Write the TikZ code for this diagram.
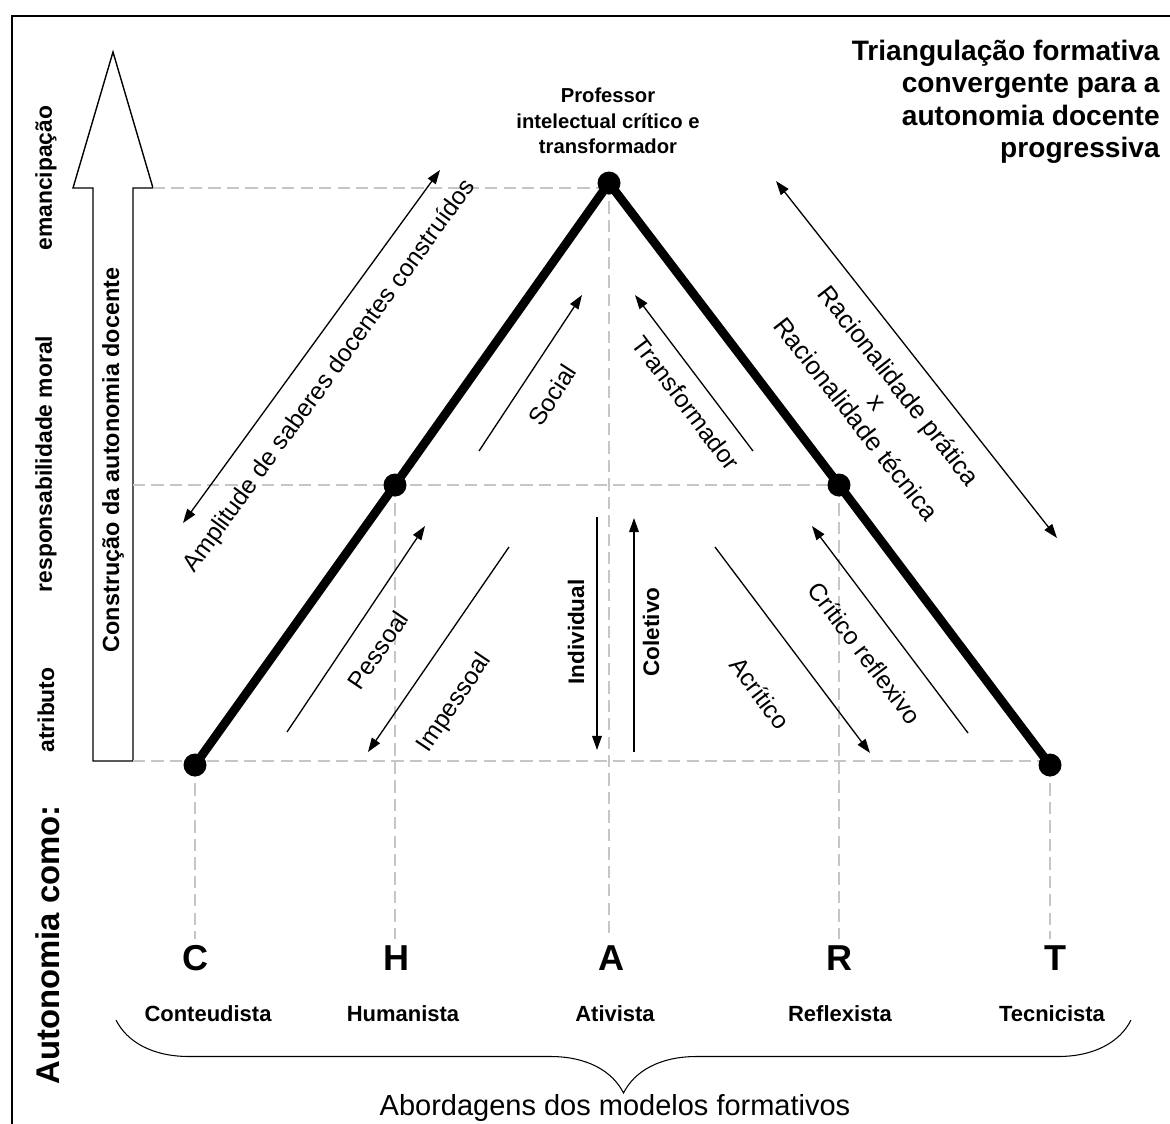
\documentclass[tikz,border=0pt]{standalone}
\usepackage{fontspec}
\setmainfont{Liberation Sans}
\usetikzlibrary{arrows.meta,decorations.pathreplacing}

\begin{document}
\begin{tikzpicture}[
  >={Triangle[length=8pt,width=5.5pt]},
  dot/.style={circle, fill=black, inner sep=0pt, minimum size=0.46cm},
  ridge/.style={line width=5pt},
  guide/.style={gray!45, line width=0.8pt, dash pattern=on 7pt off 3.5pt},
  flow/.style={line width=0.75pt},
  note/.style={font=\fontsize{14}{16}\selectfont},
  rung/.style={rotate=90, font=\bfseries\fontsize{13}{15}\selectfont},
  letter/.style={font=\bfseries\fontsize{20.5}{24}\selectfont},
  model/.style={font=\bfseries\fontsize{12.5}{15}\selectfont}]
\useasboundingbox (0,0) rectangle (23.4,-22.48);
% Frame
\draw[line width=1.7pt] (23.8,-0.32) -- (0.24,-0.32) -- (0.24,-22.8);

% Big arrow
\coordinate (headR) at (3.06,-3.76);
\coordinate (shaftR) at (2.66,-15.22);
\draw[line width=0.8pt] (1.86,-15.22) -- (1.86,-3.76) -- (1.46,-3.76) -- (2.26,-1.04)
  -- (headR) -- (2.66,-3.76) -- (shaftR) -- cycle;
\node[rung, font=\bfseries\fontsize{13.3}{15}\selectfont] (build) at (2.26,-9.20) {Construção da autonomia docente};

% Points
\coordinate (top) at (12.18,-3.66);
\coordinate (hum) at (7.90,-9.70);
\coordinate (con) at (3.90,-15.30);
\coordinate (ref) at (16.78,-9.70);
\coordinate (tec) at (21.00,-15.30);

% Letters and models
\node[letter] (lC) at (3.92,-19.16) {C};
\node[letter] (lH) at (7.94,-19.16) {H};
\node[letter] (lA) at (12.24,-19.16) {A};
\node[letter] (lR) at (16.80,-19.16) {R};
\node[letter] (lT) at (21.10,-19.16) {T};
\node[model] (mC) at (4.16,-20.28) {Conteudista};
\node[model] (mH) at (8.06,-20.28) {Humanista};
\node[model] (mA) at (12.30,-20.28) {Ativista};
\node[model] (mR) at (16.80,-20.28) {Reflexista};
\node[model] (mT) at (21.04,-20.28) {Tecnicista};

% Guides
\draw[guide] (headR) -- (headR -| top);
\draw[guide] (shaftR |- hum) -- (ref);
\draw[guide] (shaftR) -- (shaftR -| tec);
\draw[guide] (top) -- (top |- lA.north);
\draw[guide] (con) -- (con |- lC.north);
\draw[guide] (hum) -- (hum |- lH.north);
\draw[guide] (ref) -- (ref |- lR.north);
\draw[guide] (tec) -- (tec |- lT.north);

% Triangle
\draw[ridge, line join=round] (con) -- (hum) -- (top) -- (ref) -- (tec);
\node[dot] (dC) at (con) {};
\node[dot] (dH) at (hum) {};
\node[dot] (dA) at (top) {};
\node[dot] (dR) at (ref) {};
\node[dot] (dT) at (tec) {};
\node[align=center, font=\bfseries\fontsize{11.5}{14.5}\selectfont] (prof) at (12.16,-2.42)
  {Professor\\intelectual crítico e\\transformador};

% Arrow ends
\coordinate (amA) at (3.66,-10.46);
\coordinate (amB) at (8.80,-3.40);
\coordinate (soA) at (9.58,-9.02);
\coordinate (soB) at (11.64,-5.90);
\coordinate (trA) at (15.06,-9.02);
\coordinate (trB) at (12.70,-5.90);
\coordinate (raA) at (15.52,-3.62);
\coordinate (raB) at (21.14,-10.76);
\coordinate (peA) at (5.74,-14.64);
\coordinate (peB) at (8.50,-10.52);
\coordinate (imA) at (10.18,-10.94);
\coordinate (imB) at (7.36,-15.04);
\coordinate (inA) at (11.94,-10.34);
\coordinate (inB) at (11.94,-15.00);
\coordinate (coA) at (12.68,-15.04);
\coordinate (coB) at (12.68,-10.36);
\coordinate (acA) at (14.30,-10.94);
\coordinate (acB) at (17.40,-15.06);
\coordinate (crA) at (19.36,-14.66);
\coordinate (crB) at (16.24,-10.52);

% Arrows
\draw[flow, <->] (amA) -- (amB);
\draw[flow, ->] (soA) -- (soB);
\draw[flow, ->] (trA) -- (trB);
\draw[flow, <->] (raA) -- (raB);
\draw[flow, ->] (peA) -- (peB);
\draw[flow, ->] (imA) -- (imB);
\draw[flow, ->] (inA) -- (inB);
\draw[flow, ->] (coA) -- (coB);
\draw[flow, ->] (acA) -- (acB);
\draw[flow, ->] (crA) -- (crB);

% Arrow labels
\node[note, rotate=54] (ampl) at (6.60,-7.52) {Amplitude de saberes docentes construídos};
\node[note, rotate=57] (soc) at (11.04,-7.90) {Social};
\node[note, rotate=-53] (trf) at (13.72,-8.06) {Transformador};
\node[note, rotate=-52, align=center, font=\fontsize{14.5}{15.5}\selectfont] (rac) at (17.56,-8.04)
  {Racionalidade prática\\x\\Racionalidade técnica};
\node[note, rotate=56] (pes) at (7.56,-13.00) {Pessoal};
\node[note, rotate=56] (imp) at (9.10,-14.06) {Impessoal};
\node[rung, font=\bfseries\fontsize{12.8}{15}\selectfont] (ind) at (11.52,-12.64) {Individual};
\node[rung, font=\bfseries\fontsize{12.8}{15}\selectfont] (col) at (13.02,-12.64) {Coletivo};
\node[note, rotate=-53] (acr) at (15.20,-13.86) {Acrítico};
\node[note, rotate=-53] (cri) at (17.30,-13.06) {Crítico reflexivo};

% Left labels
\node[rung] (eman) at (0.92,-3.56) {emancipação};
\node[rung] (resp) at (0.92,-9.28) {responsabilidade moral};
\node[rung] (atri) at (0.92,-14.20) {atributo};
\node[rotate=90, font=\bfseries\fontsize{18.7}{22}\selectfont] (auto) at (0.96,-18.90) {Autonomia como:};

% Title
\node[anchor=east, align=right, inner sep=0pt, font=\bfseries\fontsize{16}{18.5}\selectfont] (title) at (23.2,-2.04)
  {Triangulação formativa\\convergente para a\\autonomia docente\\progressiva};

% Brace
\coordinate (brL) at (2.32,-20.40);
\coordinate (brR) at (22.62,-20.40);
\draw[line width=0.6pt, decorate, decoration={brace, mirror, amplitude=1.46cm}] (brL) -- (brR);
\node[font=\fontsize{16.5}{19}\selectfont] (abord) at (12.30,-22.16) {Abordagens dos modelos formativos};
\end{tikzpicture}
\end{document}
